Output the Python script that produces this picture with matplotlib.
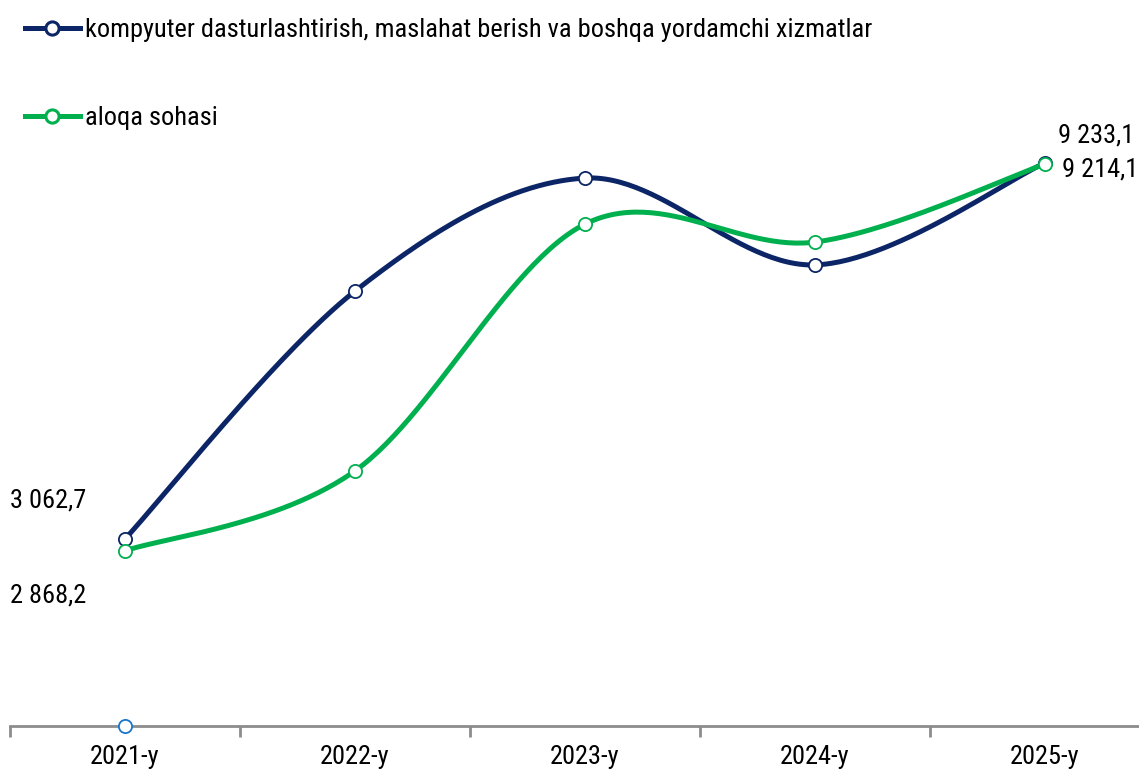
import numpy as np
import matplotlib
matplotlib.use("Agg")
import matplotlib.pyplot as plt
from matplotlib import font_manager as fm
from matplotlib.ticker import FixedLocator, NullFormatter

categories = ["2021-y", "2022-y", "2023-y", "2024-y", "2025-y"]
series_names = ["kompyuter dasturlashtirish, maslahat berish va boshqa yordamchi xizmatlar",
                "aloqa sohasi"]
kompyuter = [3062.7, 7130.0, 8985.0, 7560.0, 9233.1]
aloqa = [2868.2, 4180.0, 8230.0, 7935.0, 9214.1]
extra_point = [0.0]  # stray marker at baseline of the first category

names = {f.name for f in fm.fontManager.ttflist}
family = "Roboto"
for cand in ["Roboto Condensed", "Liberation Sans Narrow", "Roboto"]:
    if cand in names:
        family = cand
        break
plt.rcParams["font.family"] = [family, "DejaVu Sans"]

NAVY = "#0b2566"
GREEN = "#00b04f"
BLUE = "#1a75c9"
GRAY = "#8c8c8c"
FS = 19

def spline(y, n=60):
    x = np.arange(len(y), dtype=float)
    P = np.column_stack([x, np.asarray(y, float)])
    Pe = np.vstack([P[0], P, P[-1]])
    out = []
    t = np.linspace(0, 1, n)[:, None]
    for i in range(len(P) - 1):
        p0, p1, p2, p3 = Pe[i], Pe[i + 1], Pe[i + 2], Pe[i + 3]
        c1 = p1 + (p2 - p0) / 6.0
        c2 = p2 - (p3 - p1) / 6.0
        seg = ((1 - t) ** 3) * p1 + 3 * ((1 - t) ** 2) * t * c1 + 3 * (1 - t) * t ** 2 * c2 + t ** 3 * p2
        out.append(seg)
    pts = np.vstack(out)
    return pts[:, 0], pts[:, 1]

fig = plt.figure(figsize=(11.39, 7.72), dpi=100)
ax = fig.add_axes([10 / 1139, (772 - 725.6) / 772, 1 - 10 / 1139, 725.6 / 772])

x = np.arange(len(categories))
for vals, col, name in [(kompyuter, NAVY, series_names[0]), (aloqa, GREEN, series_names[1])]:
    sx, sy = spline(vals)
    ax.plot(sx, sy, color=col, lw=3.6, solid_capstyle="round", zorder=3)
    ax.plot(x, vals, ls="none", marker="o", ms=9.5, mfc="white", mec=col, mew=1.3, zorder=4)
    ax.plot([], [], color=col, lw=3.6, marker="o", ms=9.5, mfc="white", mec=col, mew=2.2, label=name)

ax.plot(x[:1], extra_point, ls="none", marker="o", ms=9.5, mfc="white", mec=BLUE, mew=1.3,
        zorder=5, clip_on=False)

ax.set_xlim(-0.5, (1139 - 125) / 230.0)
ax.set_ylim(0, 725.6 * 16.41)
for s in ["top", "right", "left"]:
    ax.spines[s].set_visible(False)
ax.spines["bottom"].set_color(GRAY)
ax.spines["bottom"].set_linewidth(2)
ax.set_yticks([])
ax.xaxis.set_major_locator(FixedLocator(x))
ax.set_xticklabels(categories, fontsize=FS)
ax.tick_params(axis="x", which="major", length=0, pad=14)
ax.xaxis.set_minor_locator(FixedLocator(np.arange(-0.5, 5.0, 1.0)))
ax.xaxis.set_minor_formatter(NullFormatter())
ax.tick_params(axis="x", which="minor", length=8, width=2, color=GRAY)

lab = dict(fontsize=FS, ha="center", va="center", textcoords="offset points")
ax.annotate("3 062,7", (0, kompyuter[0]), xytext=(-55, 28), **lab)
ax.annotate("2 868,2", (0, aloqa[0]), xytext=(-55, -32), **lab)
ax.annotate("9 233,1", (4, kompyuter[4]), xytext=(37, 20), **lab)
ax.annotate("9 214,1", (4, aloqa[4]), xytext=(40, -4), **lab)

fig.legend(loc="upper left", bbox_to_anchor=(0.0127, 0.99), frameon=False, fontsize=FS,
           handlelength=2.08, handletextpad=0.2, labelspacing=2.42, borderaxespad=0)

fig.savefig("out.png", dpi=100)
